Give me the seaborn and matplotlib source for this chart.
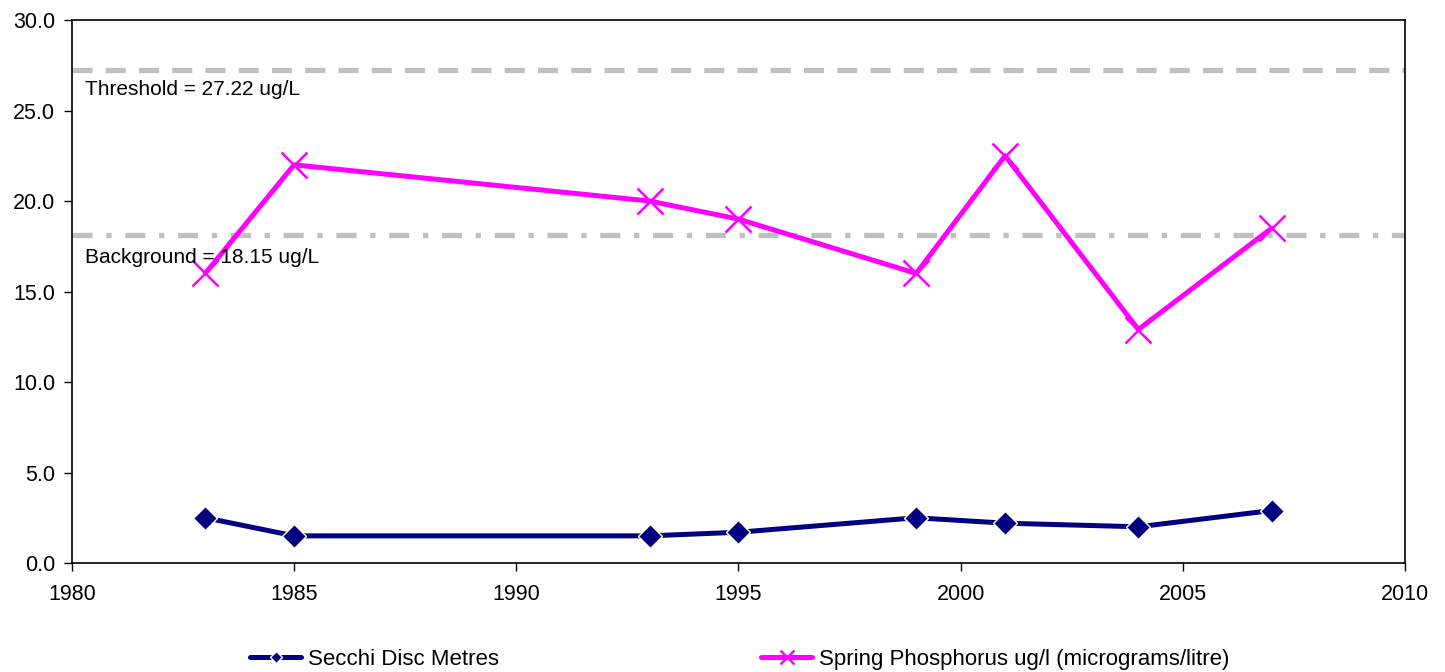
import numpy as np
import pandas as pd
import matplotlib
matplotlib.use("Agg")
import matplotlib.pyplot as plt
import seaborn as sns

years = [1983, 1985, 1993, 1995, 1999, 2001, 2004, 2007]
secchi = [2.5, 1.5, 1.5, 1.7, 2.5, 2.2, 2.0, 2.9]
phosphorus = [16.0, 22.0, 20.0, 19.0, 16.0, 22.5, 12.9, 18.5]
threshold = 27.22
background = 18.15
series_names = ["Secchi Disc Metres", "Spring Phosphorus ug/l (micrograms/litre)"]

sns.set_style("ticks")
plt.rcParams['font.family'] = ['Liberation Sans', 'DejaVu Sans']
plt.rcParams['text.color'] = 'black'
plt.rcParams['xtick.color'] = 'black'
plt.rcParams['ytick.color'] = 'black'

df_secchi = pd.DataFrame({'year': years, 'value': secchi})
df_phos = pd.DataFrame({'year': years, 'value': phosphorus})

fig = plt.figure(figsize=(14.45, 6.72), dpi=100)
ax = fig.add_axes([0.0498, 0.1622, 0.9225, 0.808])

# reference lines
ax.axhline(threshold, color='#C0C0C0', lw=3.8, dashes=(3.8, 2.5), zorder=1)
ax.axhline(background, color='#C0C0C0', lw=3.8, dashes=(3.8, 2.6, 1, 2.6), zorder=1)

sns.lineplot(data=df_secchi, x='year', y='value', ax=ax, color='#000080', lw=3.6,
             marker='D', markersize=12, markeredgecolor='white', markeredgewidth=1.0,
             label=series_names[0], zorder=3)
sns.lineplot(data=df_phos, x='year', y='value', ax=ax, color='#FF00FF', lw=3.6,
             marker='x', markersize=19, markeredgecolor='#FF00FF', markeredgewidth=1.8,
             label=series_names[1], zorder=3)

ax.text(1980.3, 26.15, "Threshold = 27.22 ug/L", fontsize=15, va='center', ha='left', color='black')
ax.text(1980.3, 16.9, "Background = 18.15 ug/L", fontsize=15, va='center', ha='left', color='black')

ax.set_xlim(1980, 2010)
ax.set_ylim(0, 30)
ax.set_xticks(range(1980, 2011, 5))
ax.set_yticks(np.arange(0, 30.1, 5))
ax.set_yticklabels([f"{v:.1f}" for v in np.arange(0, 30.1, 5)])
ax.tick_params(axis='both', labelsize=15.5, direction='out', length=6, width=1,
               color='black', labelcolor='black')
ax.tick_params(axis='x', pad=9)
ax.tick_params(axis='y', pad=6)
ax.set_xlabel('')
ax.set_ylabel('')
for side in ['top', 'right', 'left', 'bottom']:
    ax.spines[side].set_visible(True)
    ax.spines[side].set_color('black')
    ax.spines[side].set_linewidth(1.2)

handles, labels = ax.get_legend_handles_labels()
ax.get_legend().remove()
fig.legend(handles, labels, loc='lower center', bbox_to_anchor=(0.512, -0.027), ncol=2,
           frameon=False, fontsize=16, columnspacing=11.8, handlelength=2.3,
           handletextpad=0.3, markerscale=0.55, labelcolor='black')

fig.savefig('out.png', dpi=100)
